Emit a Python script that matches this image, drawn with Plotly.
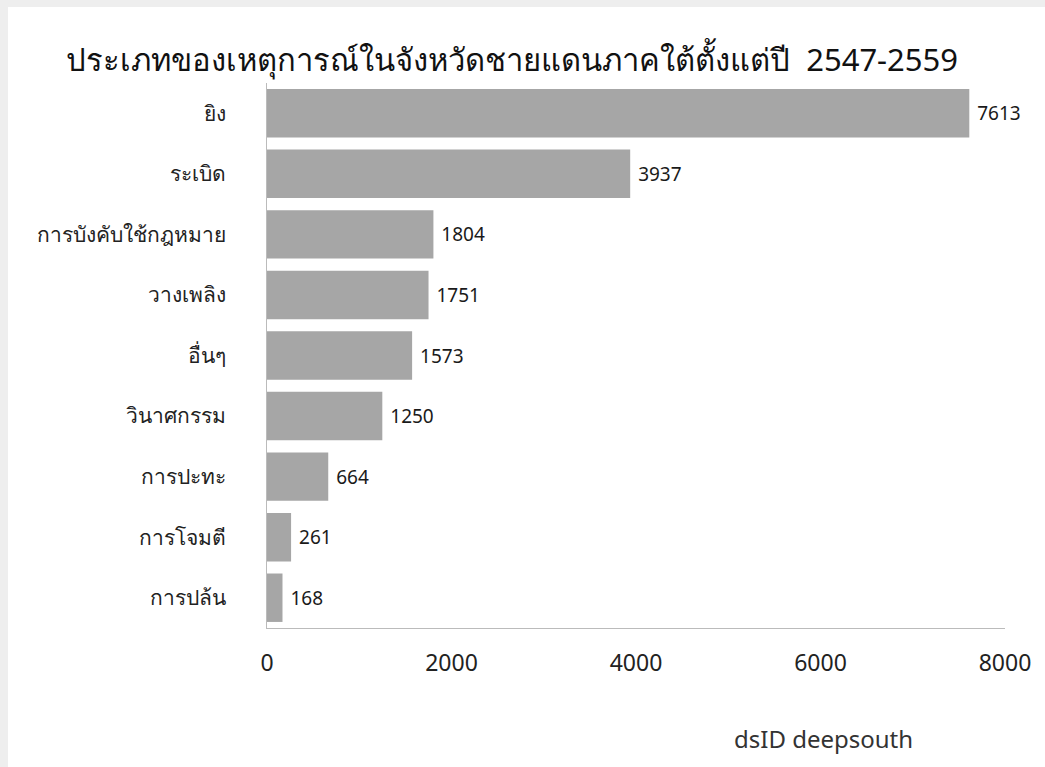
import plotly.graph_objects as go

categories = ["ยิง", "ระเบิด", "การบังคับใช้กฎหมาย", "วางเพลิง", "อื่นๆ",
              "วินาศกรรม", "การปะทะ", "การโจมตี", "การปล้น"]
values = [7613, 3937, 1804, 1751, 1573, 1250, 664, 261, 168]
tick_vals = [0, 2000, 4000, 6000, 8000]
tick_text = ["0", "2000", "4000", "6000", "8000"]
title_text = "ประเภทของเหตุการณ์ในจังหวัดชายแดนภาคใต้ตั้งแต่ปี  2547-2559"
logo_text = "dsID deepsouth"

FONT = "Noto Sans, Open Sans, sans-serif"

W, H = 1045, 767
L, R, T, B = 267, 40, 83, 139
pw, ph = W - L - R, H - T - B

fig = go.Figure()
fig.add_trace(go.Bar(
    y=categories,
    x=values,
    orientation="h",
    marker=dict(color="#a6a6a6", line=dict(width=0)),
    texttemplate="\u00a0%{x}",
    textposition="outside",
    textfont=dict(size=19, color="#1a1a1a", family=FONT),
    cliponaxis=False,
    hoverinfo="skip",
))

fig.update_layout(
    width=W,
    height=H,
    paper_bgcolor="white",
    plot_bgcolor="white",
    margin=dict(l=L, r=R, t=T, b=B, autoexpand=False),
    bargap=0.2,
    showlegend=False,
    title=dict(text=title_text, x=0.49, xanchor="center", y=0.922, yanchor="middle",
               font=dict(size=31, color="#111111", family=FONT)),
    xaxis=dict(range=[0, 8000], tickvals=tick_vals, ticktext=tick_text, automargin=False,
               showgrid=False, zeroline=False, showline=True, linecolor="#bbbbbb",
               linewidth=1, ticks="", tickfont=dict(size=23, color="#222222", family=FONT),
               ticklabelstandoff=14),
    yaxis=dict(autorange="reversed", showgrid=False, zeroline=False, showline=True,
               linecolor="#bbbbbb", linewidth=1, ticks="", automargin=False,
               tickfont=dict(size=21, color="#222222", family=FONT),
               ticklabelstandoff=36),
    annotations=[dict(text=logo_text, xref="paper", yref="paper", x=(915 - L) / pw,
                      y=-(738 - T - ph) / ph, xanchor="right", yanchor="middle", showarrow=False,
                      font=dict(size=24, color="#333333", family=FONT))],
    shapes=[
        dict(type="rect", xref="paper", yref="paper", x0=-L / pw, x1=(W - L) / pw,
             y0=1 + (T - 7) / ph, y1=1 + T / ph,
             fillcolor="#eeeeee", line=dict(width=0), layer="below"),
        dict(type="rect", xref="paper", yref="paper", x0=-L / pw, x1=-(L - 8) / pw,
             y0=-B / ph, y1=1 + T / ph,
             fillcolor="#eeeeee", line=dict(width=0), layer="below"),
    ],
)

fig.write_html("out.html", config={"displayModeBar": False},
               post_script="document.body.style.margin='0';")
